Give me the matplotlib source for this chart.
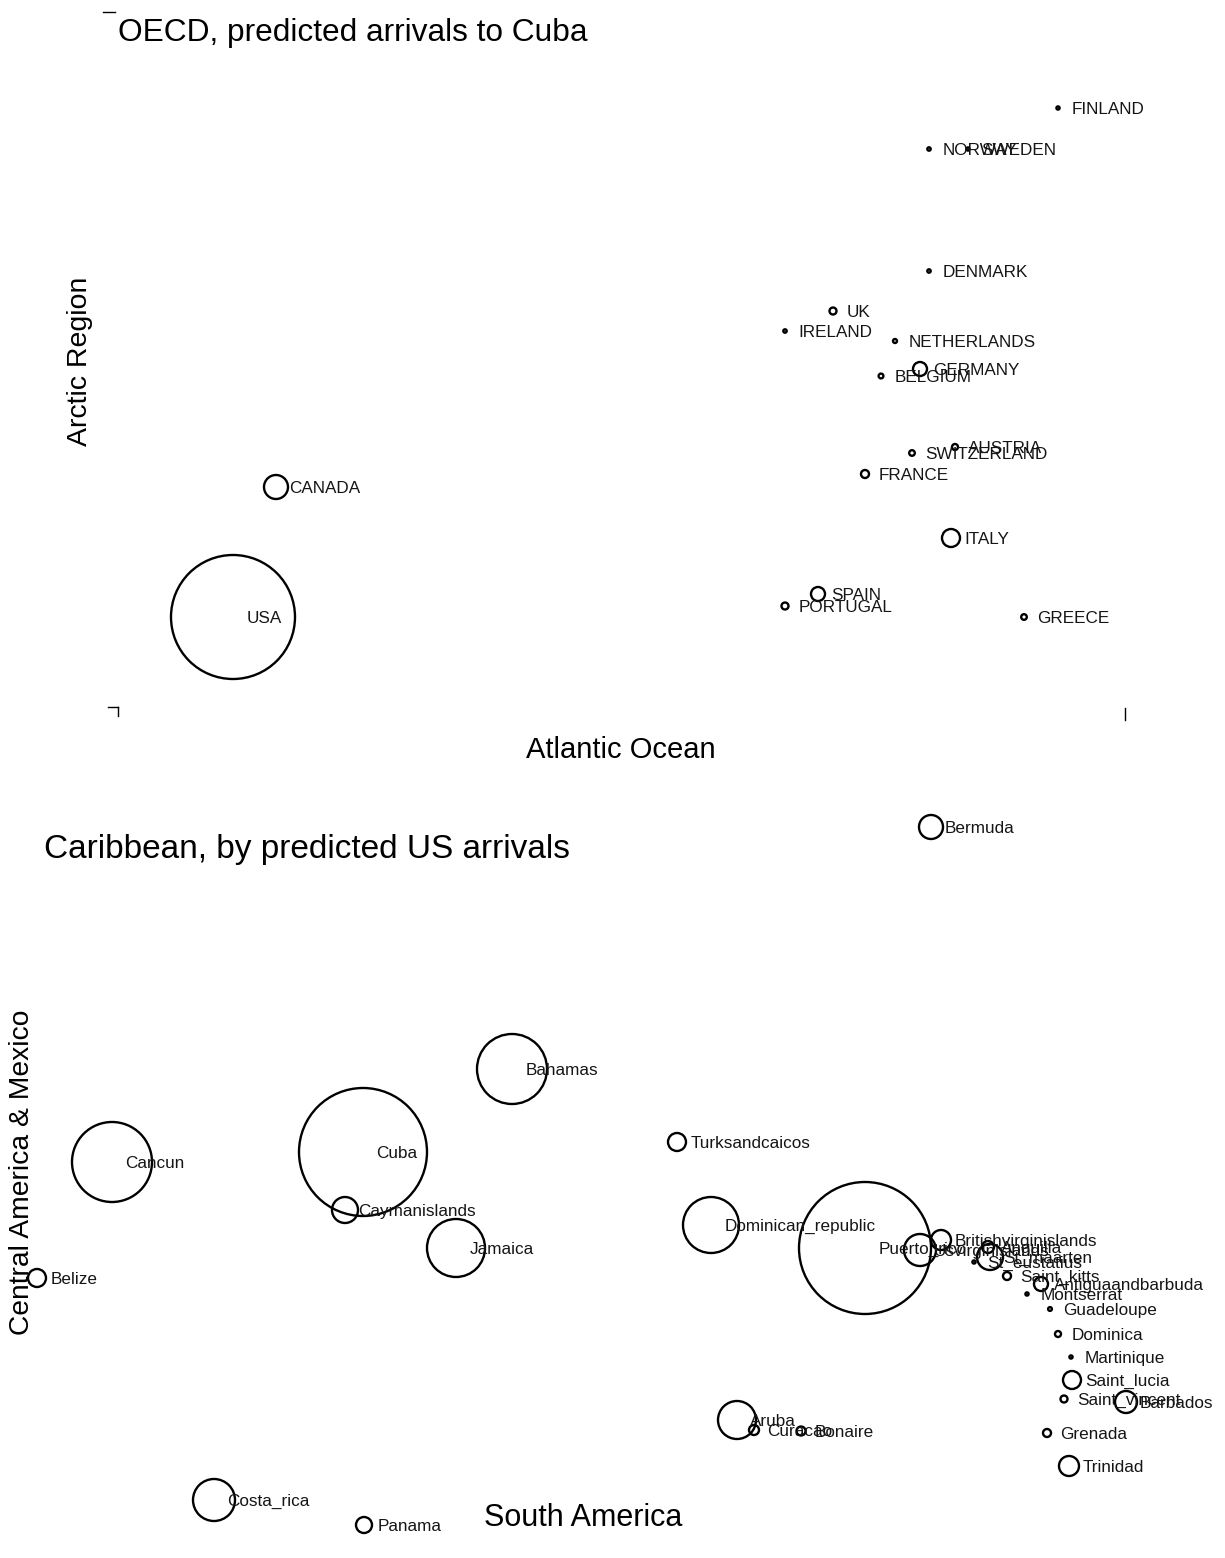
import matplotlib
matplotlib.use("Agg")
import matplotlib.pyplot as plt
from matplotlib.lines import Line2D

plt.rcParams['font.family'] = ['Liberation Sans', 'DejaVu Sans']

W, H = 1225, 1558

# OECD panel: position (x, y) and marker radius (weight)
oecd_names = ['FINLAND', 'NORWAY', 'SWEDEN', 'DENMARK', 'UK', 'IRELAND', 'NETHERLANDS',
              'GERMANY', 'BELGIUM', 'AUSTRIA', 'SWITZERLAND', 'FRANCE', 'ITALY',
              'SPAIN', 'PORTUGAL', 'GREECE', 'CANADA', 'USA']
oecd_x = [1058, 929, 968, 929, 833, 785, 895, 920, 881, 955, 912, 865, 951,
          818, 785, 1024, 276, 233]
oecd_y = [108, 149, 149, 271, 311, 331, 341, 369, 376, 447, 453, 474, 538,
          594, 606, 617, 487, 617]
oecd_w = [1.6, 1.7, 1.6, 1.7, 3.5, 1.7, 2.0, 7, 2.4, 3, 2.8, 4, 9,
          7, 3.5, 2.8, 12, 62]

# Caribbean panel
car_names = ['Bermuda', 'Bahamas', 'Turksandcaicos', 'Cancun', 'Cuba', 'Caymanislands',
             'Jamaica', 'Dominican_republic', 'Puerto_rico', 'Usvirginislands',
             'Britishvirginislands', 'Anguilla', 'St_maarten', 'St_eustatius',
             'Saint_kitts', 'Antiguaandbarbuda', 'Montserrat', 'Guadeloupe', 'Dominica',
             'Martinique', 'Saint_lucia', 'Saint_vincent', 'Barbados', 'Grenada',
             'Trinidad', 'Aruba', 'Curacao', 'Bonaire', 'Costa_rica', 'Panama', 'Belize']
car_x = [931, 512, 677, 112, 363, 345, 456, 711, 865, 920, 941, 988, 990, 974,
         1007, 1041, 1027, 1050, 1058, 1071, 1072, 1064, 1126, 1047, 1069,
         737, 754, 801, 214, 364, 37]
car_y = [827, 1069, 1142, 1162, 1152, 1210, 1248, 1225, 1248, 1250, 1240, 1247,
         1257, 1262, 1276, 1284, 1294, 1309, 1334, 1357, 1380, 1399, 1402, 1433,
         1466, 1420, 1430, 1431, 1500, 1525, 1278]
car_w = [12, 35, 9, 40, 64, 13, 29, 28, 66, 16, 10, 6, 13, 1.6, 4, 7, 1.6, 1.9, 3,
         1.6, 9, 3.5, 11, 4, 10, 19, 5, 4.5, 21, 8, 9]

fig = plt.figure(figsize=(W / 100, H / 100), dpi=100)


def px(x, y):
    return x / W, 1 - y / H


def panel(x0, y0, x1, y1, xs, ys, ws, names):
    ax = fig.add_axes([x0 / W, 1 - y1 / H, (x1 - x0) / W, (y1 - y0) / H])
    ax.set_xlim(x0, x1)
    ax.set_ylim(y1, y0)
    ax.axis('off')
    sizes = [(2 * r * 0.72) ** 2 for r in ws]
    ax.scatter(xs, ys, s=sizes, facecolors='none', edgecolors='black',
               linewidths=1.7, clip_on=False)
    for x, y, n in zip(xs, ys, names):
        ax.annotate(n, (x, y), xytext=(9.5, -1.2), textcoords='offset points',
                    ha='left', va='center', fontsize=12.3, color='#151515',
                    annotation_clip=False)
    return ax


panel(110, 12, 1125, 712, oecd_x, oecd_y, oecd_w, oecd_names)
panel(0, 790, 1225, 1545, car_x, car_y, car_w, car_names)

# leftover frame bits of the first plot region
for xs, ys in [([103, 115], [12, 12]), ([108, 118], [707, 707]),
               ([118, 118], [707, 716]), ([1125, 1125], [708, 720])]:
    fig.add_artist(Line2D([x / W for x in xs], [1 - y / H for y in ys],
                          color='black', linewidth=1))

fig.text(*px(118, 41), 'OECD, predicted arrivals to Cuba', fontsize=22.8,
         ha='left', va='baseline')
fig.text(*px(621, 758), 'Atlantic Ocean', fontsize=21, ha='center', va='baseline')
fig.text(*px(80, 361), 'Arctic Region', fontsize=20.5, ha='center', va='center',
         rotation=90)

fig.text(*px(44, 858), 'Caribbean, by predicted US arrivals', fontsize=24,
         ha='left', va='baseline')
fig.text(*px(583, 1526), 'South America', fontsize=22, ha='center', va='baseline')
fig.text(*px(22, 1172), 'Central America & Mexico', fontsize=20.3, ha='center',
         va='center', rotation=90)

fig.savefig('out.png', dpi=100, facecolor='white')
